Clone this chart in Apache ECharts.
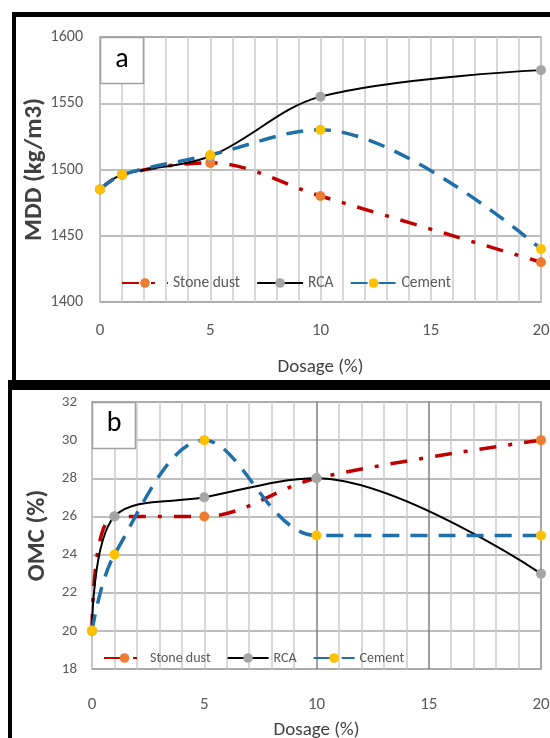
<!DOCTYPE html>
<html><head><meta charset="utf-8">
<script src="https://cdn.jsdelivr.net/npm/echarts@6/dist/echarts.min.js"></script>
<style>html,body{margin:0;padding:0;background:#fff}#c{width:550px;height:738px}</style>
</head><body><div id="c"></div>
<script>
// ---- data ----
const dosage = [0, 1, 5, 10, 20];
const mddStoneDust = [1485, 1496, 1505, 1480, 1430];
const mddRCA       = [1485, 1496, 1510, 1555, 1575];
const mddCement    = [1485, 1496, 1511, 1530, 1440];
const omcStoneDust = [20, 26, 26, 28, 30];
const omcRCA       = [20, 26, 27, 28, 23];
const omcCement    = [20, 24, 30, 25, 25];
const seriesNames = ['Stone dust', 'RCA', 'Cement'];
const xTickLabels = ['0', '5', '10', '15', '20'];
const panelLabels = ['a', 'b'];

const FN = "Carlito, Calibri, 'Roboto Condensed', sans-serif";
const pairs = arr => dosage.map((d, i) => [d, arr[i]]);

const styles = {
  'Stone dust': { line: { color: '#C00000', width: 3.5, type: [17, 12, 4, 12] }, marker: '#ED7D31' },
  'RCA':        { line: { color: '#000000', width: 2, type: 'solid' }, marker: '#A5A5A5' },
  'Cement':     { line: { color: '#1F6FA8', width: 3.5, type: [17, 11] }, marker: '#FFC000' }
};

function mk(name, arr, gi) {
  const s = styles[name];
  return {
    name, type: 'line', xAxisIndex: gi, yAxisIndex: gi, data: pairs(arr),
    smooth: 0.35, symbol: 'circle', symbolSize: 10,
    lineStyle: { color: s.line.color, width: s.line.width, type: s.line.type, cap: 'butt' },
    itemStyle: { color: s.marker, borderWidth: 0 },
    emphasis: { disabled: true }, z: 3
  };
}

function xAxis(gi, labelMargin, nameGap, fs, splitColors) {
  return {
    gridIndex: gi, type: 'value', min: 0, max: 20, interval: 5,
    axisLine: { show: false }, axisTick: { show: false },
    axisLabel: { margin: labelMargin, color: '#595959', fontSize: fs, fontFamily: FN,
      formatter: v => xTickLabels[Math.round(v / 5)] },
    splitLine: { show: true, lineStyle: { color: splitColors, width: 1.5 } },
    minorTick: { show: false, splitNumber: 5 },
    minorSplitLine: { show: true, lineStyle: { color: '#CCCCCC', width: 1.5 } },
    name: 'Dosage (%)', nameLocation: 'middle', nameGap: nameGap, nameMoveOverlap: false,
    nameTextStyle: { color: '#404040', fontSize: 19, fontFamily: FN }
  };
}

function yAxis(gi, min, max, interval, name, nameGap, fs, margin) {
  return {
    gridIndex: gi, type: 'value', min, max, interval,
    axisLine: { show: false }, axisTick: { show: false },
    axisLabel: { margin: margin, color: '#595959', fontSize: fs, fontFamily: FN, formatter: v => String(v) },
    splitLine: { show: true, lineStyle: { color: '#A8A8A8', width: 1.5 } },
    name, nameLocation: 'middle', nameGap, nameRotate: 90, nameMoveOverlap: false,
    nameTextStyle: { color: '#404040', fontSize: 25, fontWeight: 'bold', fontFamily: FN }
  };
}

const chart = echarts.init(document.getElementById('c'), null, { renderer: 'canvas' });
chart.setOption({
  animation: false,
  backgroundColor: '#fff',
  grid: [
    { left: 100, right: 9, top: 37, height: 265, show: true, borderColor: '#A0A0A0', borderWidth: 1.5, backgroundColor: 'transparent', containLabel: false, outerBoundsMode: 'none' },
    { left: 92, right: 9, top: 402, height: 267, show: true, borderColor: '#A0A0A0', borderWidth: 1.5, backgroundColor: 'transparent', containLabel: false, outerBoundsMode: 'none' }
  ],
  xAxis: [
    xAxis(0, 20, 56, 17, ['#C8C8C8']),
    xAxis(1, 27, 52, 17, ['#CCCCCC', '#CCCCCC', '#808080', '#808080', '#A0A0A0'])
  ],
  yAxis: [
    yAxis(0, 1400, 1600, 50, 'MDD (kg/m3)', 53, 16, 17),
    yAxis(1, 18, 32, 2, 'OMC (%)', 42, 15, 15)
  ],
  legend: [
    { left: 116, top: 270, itemWidth: 46, itemHeight: 12, itemGap: 16, selectedMode: false,
      textStyle: { fontFamily: FN, fontSize: 15.5, color: '#595959' }, data: seriesNames },
    { left: 98, top: 646, itemWidth: 41, itemHeight: 12, itemGap: 16, selectedMode: false,
      textStyle: { fontFamily: FN, fontSize: 14, color: '#595959' }, data: seriesNames }
  ],
  series: [
    mk('Stone dust', mddStoneDust, 0), mk('RCA', mddRCA, 0), mk('Cement', mddCement, 0),
    mk('Stone dust', omcStoneDust, 1), mk('RCA', omcRCA, 1), mk('Cement', omcCement, 1)
  ],
  graphic: [
    { type: 'rect', silent: true, z: 10, shape: { x: 12, y: 12, width: 538, height: 5 }, style: { fill: '#000' } },
    { type: 'rect', silent: true, z: 10, shape: { x: 12, y: 12, width: 4, height: 370 }, style: { fill: '#000' } },
    { type: 'rect', silent: true, z: 10, shape: { x: 8, y: 380, width: 542, height: 10 }, style: { fill: '#000' } },
    { type: 'rect', silent: true, z: 10, shape: { x: 8, y: 380, width: 4, height: 358 }, style: { fill: '#000' } },
    { type: 'rect', silent: true, z: 1, shape: { x: 100.5, y: 37.5, width: 43, height: 46 }, style: { fill: '#fff', stroke: '#A0A0A0', lineWidth: 1.5 } },
    { type: 'text', silent: true, z: 2, x: 122, y: 60, style: { text: panelLabels[0], fill: '#000', font: "28px " + FN, align: 'center', verticalAlign: 'middle' } },
    { type: 'rect', silent: true, z: 1, shape: { x: 92.5, y: 402.5, width: 43, height: 46 }, style: { fill: '#fff', stroke: '#A0A0A0', lineWidth: 1.5 } },
    { type: 'text', silent: true, z: 2, x: 114, y: 424, style: { text: panelLabels[1], fill: '#000', font: "28px " + FN, align: 'center', verticalAlign: 'middle' } }
  ]
});
</script></body></html>
